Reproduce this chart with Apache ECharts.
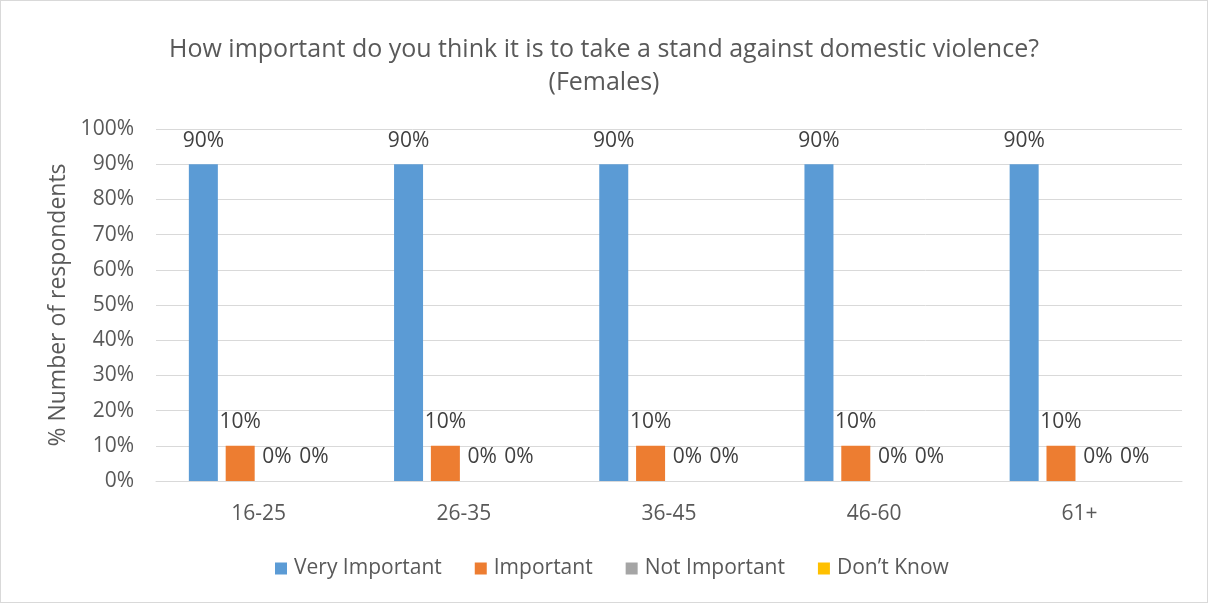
<!DOCTYPE html>
<html><head><meta charset="utf-8">
<script src="https://cdn.jsdelivr.net/npm/echarts@6/dist/echarts.min.js"></script>
<style>html,body{margin:0;padding:0;background:#fff}#c{width:1208px;height:603px;box-sizing:border-box;border:1px solid #d9d9d9}</style>
</head><body><div id="c"></div>
<script>
const categories = ['16-25','26-35','36-45','46-60','61+'];
const veryImportant = [90,90,90,90,90];
const important = [10,10,10,10,10];
const notImportant = [0,0,0,0,0];
const dontKnow = [0,0,0,0,0];
const seriesNames = ['Very Important','Important','Not Important','Don\u2019t Know'];
const colors = ['#5b9bd5','#ed7d31','#a5a5a5','#ffc000'];
const FONT = 'Open Sans';
const chart = echarts.init(document.getElementById('c'));
const label = {show:true, position:'top', distance:13, formatter:'{c}%', color:'#404040', fontFamily:FONT, fontSize:21};
const mk = (name, data, i) => ({name, type:'bar', data, barWidth:29, barGap:'27%', itemStyle:{color:colors[i]}, label});
chart.setOption({
  animation:false,
  textStyle:{fontFamily:FONT},
  title:{text:'How important do you think it is to take a stand against domestic violence?\n(Females)', left:'center', top:27,
    textStyle:{fontFamily:FONT, fontSize:25, fontWeight:'normal', color:'#595959', lineHeight:33}},
  legend:{bottom:18, left:269, itemWidth:12, itemHeight:12, itemGap:33, icon:'rect',
    textStyle:{fontFamily:FONT, fontSize:21, color:'#595959', padding:[0,0,0,2]}},
  grid:{left:155, right:25, top:128, bottom:121},
  xAxis:{type:'category', data:categories, axisTick:{show:false},
    axisLine:{lineStyle:{color:'#d9d9d9'}},
    axisLabel:{color:'#595959', fontSize:21, fontFamily:FONT, margin:23}},
  yAxis:{type:'value', min:0, max:100, interval:10, name:'% Number of respondents', nameLocation:'middle', nameGap:85,
    nameTextStyle:{fontFamily:FONT, fontSize:23, color:'#595959'},
    axisLabel:{formatter:'{value}%', color:'#595959', fontSize:21, fontFamily:FONT, margin:22},
    splitLine:{lineStyle:{color:'#d9d9d9'}}, axisLine:{show:false}, axisTick:{show:false}},
  series:[mk(seriesNames[0],veryImportant,0), mk(seriesNames[1],important,1), mk(seriesNames[2],notImportant,2), mk(seriesNames[3],dontKnow,3)]
});
</script></body></html>
